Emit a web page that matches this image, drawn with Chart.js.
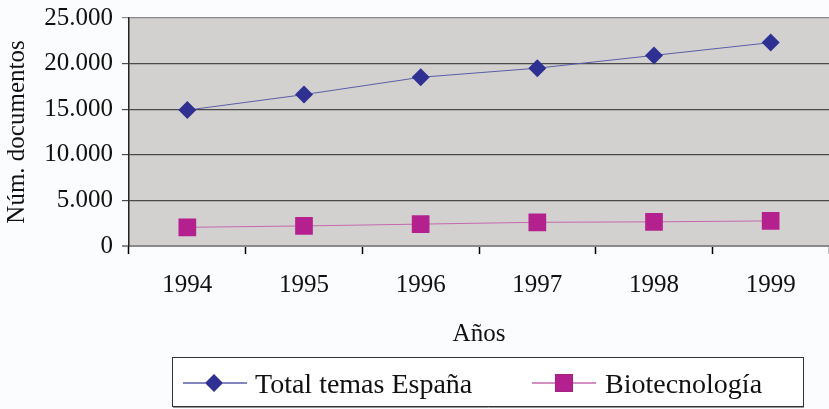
<!DOCTYPE html>
<html>
<head>
<meta charset="utf-8">
<script src="https://cdn.jsdelivr.net/npm/chart.js@4/dist/chart.umd.min.js"></script>
<style>
  html, body { margin: 0; padding: 0; background: #fbfcfd; overflow: hidden; }
  canvas { display: block; }
</style>
</head>
<body>
<canvas id="chart" width="829" height="409"></canvas>
<script>
// Data
const years = ['1994', '1995', '1996', '1997', '1998', '1999'];
const totalEspana = [14900, 16600, 18500, 19500, 20900, 22300];
const biotecnologia = [2050, 2200, 2400, 2600, 2650, 2750];
const seriesNames = ['Total temas España', 'Biotecnología'];
const yTicks = [0, 5000, 10000, 15000, 20000, 25000];

const FONT = '"Liberation Serif", "Times New Roman", serif';

function fmt(v) {
  return String(v).replace(/\B(?=(\d{3})+(?!\d))/g, '.');
}

// no auto padding from tick labels, the plot box is fixed
function noPad(s) {
  s.paddingTop = 0; s.paddingBottom = 0;
  s.paddingLeft = 0; s.paddingRight = 0;
}

// grey plot background
const plotBg = {
  id: 'plotBg',
  beforeDraw(chart) {
    const { ctx, chartArea: a } = chart;
    ctx.save();
    ctx.fillStyle = '#d3d1cf';
    ctx.fillRect(a.left, a.top, a.right - a.left, a.bottom - a.top);
    ctx.restore();
  }
};

// boxed legend at the bottom, line + marker samples
const boxLegend = {
  id: 'boxLegend',
  afterDraw(chart) {
    const ctx = chart.ctx;
    const ds = chart.data.datasets;
    ctx.save();
    ctx.fillStyle = '#ffffff';
    ctx.fillRect(172, 357, 631, 50);
    ctx.strokeStyle = '#333';
    ctx.lineWidth = 1;
    ctx.strokeRect(172.5, 357.5, 631, 49);
    ctx.strokeStyle = '#999';
    ctx.beginPath();
    ctx.moveTo(173, 407.5); ctx.lineTo(804, 407.5);
    ctx.stroke();

    const items = [
      { x0: 183, x1: 247, cx: 214, tx: 255, d: ds[0] },
      { x0: 532, x1: 596, cx: 564, tx: 605, d: ds[1] }
    ];
    const cy = 383;
    for (const it of items) {
      ctx.strokeStyle = it.d.borderColor;
      ctx.lineWidth = 1.5;
      ctx.beginPath();
      ctx.moveTo(it.x0, cy); ctx.lineTo(it.x1, cy);
      ctx.stroke();
      Chart.helpers.drawPoint(ctx, {
        pointStyle: it.d.pointStyle,
        radius: it.d.pointRadius,
        borderWidth: 0,
        rotation: 0
      }, it.cx, cy);
      ctx.fillStyle = it.d.pointBackgroundColor;
      ctx.fill();
      ctx.fillStyle = '#111';
      ctx.font = '28px ' + FONT;
      ctx.textBaseline = 'alphabetic';
      ctx.fillText(it.d.label, it.tx, 393);
    }
    ctx.restore();
  }
};

const gridColor = c => (c.tick && (c.tick.value === 0 || c.tick.value === 25000)) ? '#8a8a8a' : '#4a4a4a';

new Chart(document.getElementById('chart'), {
  type: 'line',
  data: {
    labels: years,
    datasets: [
      {
        label: seriesNames[0],
        data: totalEspana,
        borderColor: '#5a5ea8',
        borderWidth: 1,
        pointStyle: 'rectRot',
        pointRadius: 9,
        pointHoverRadius: 9,
        pointBorderWidth: 0,
        pointBackgroundColor: '#2e3192',
        pointBorderColor: '#2e3192',
        tension: 0
      },
      {
        label: seriesNames[1],
        data: biotecnologia,
        borderColor: '#c46aae',
        borderWidth: 1,
        pointStyle: 'rect',
        pointRadius: 12.5,
        pointHoverRadius: 12.5,
        pointBorderWidth: 0,
        pointBackgroundColor: '#b5208f',
        pointBorderColor: '#b5208f',
        tension: 0
      }
    ]
  },
  options: {
    responsive: false,
    animation: false,
    layout: { autoPadding: false, padding: { top: 18, right: 0, left: 0, bottom: 0 } },
    plugins: {
      legend: { display: false },
      tooltip: { enabled: false }
    },
    scales: {
      x: {
        offset: true,
        afterFit(s) { s.height = 163; noPad(s); },
        grid: {
          offset: true,
          drawOnChartArea: false,
          drawTicks: true,
          tickLength: 8,
          tickColor: '#000',
          tickWidth: 1.5
        },
        border: { color: '#8a8a8a', width: 2 },
        ticks: {
          color: '#111',
          font: { family: FONT, size: 25 },
          padding: 16,
          maxRotation: 0
        },
        title: {
          display: true,
          text: 'Años',
          color: '#111',
          font: { family: FONT, size: 25 },
          padding: { top: 0, bottom: 60 }
        }
      },
      y: {
        min: 0,
        max: 25000,
        afterFit(s) { s.width = 129; noPad(s); },
        afterBuildTicks(s) { s.ticks = yTicks.map(v => ({ value: v })); },
        grid: {
          color: gridColor,
          tickColor: gridColor,
          lineWidth: c => (c.tick && c.tick.value === 0) ? 2 : 1.2,
          tickLength: 7
        },
        border: { color: '#222', width: 1.5 },
        ticks: {
          color: '#111',
          font: { family: FONT, size: 25 },
          padding: 9,
          callback: v => fmt(v)
        },
        title: {
          display: true,
          text: 'Núm. documentos',
          color: '#111',
          font: { family: FONT, size: 25 },
          padding: { top: 2, bottom: 0 }
        }
      }
    }
  },
  plugins: [plotBg, boxLegend]
});
</script>
</body>
</html>
